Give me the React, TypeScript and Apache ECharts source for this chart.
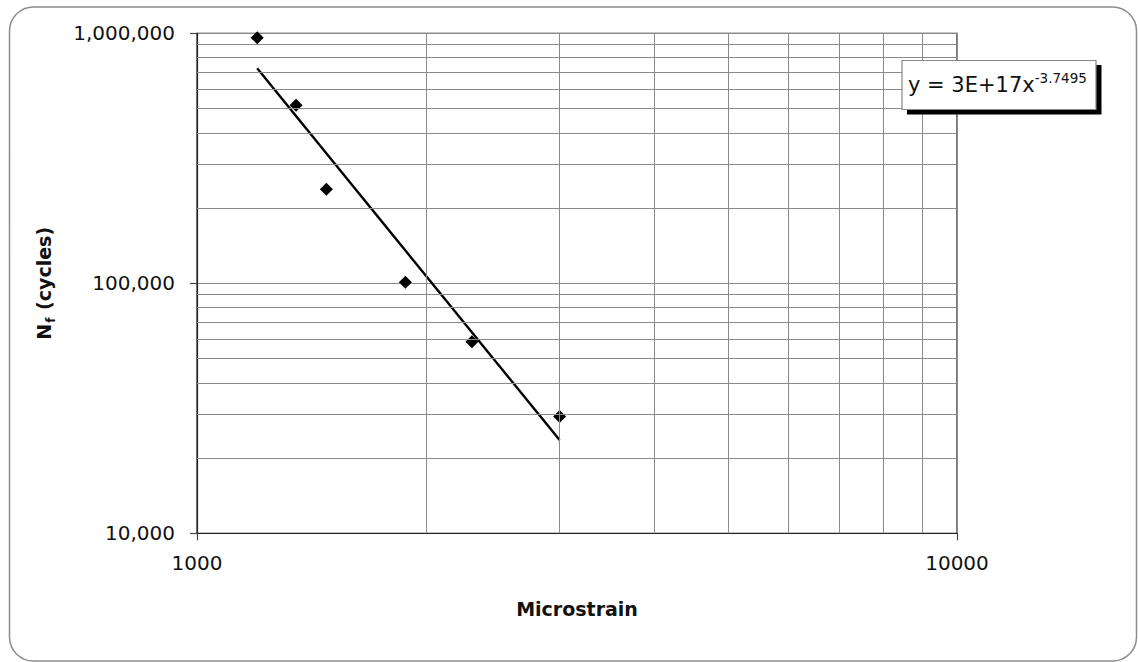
import React, { useEffect, useRef } from "react";
import * as echarts from "echarts";

// Measured data (microstrain vs cycles to failure)
const strainValues = [1200, 1350, 1480, 1880, 2300, 3000];
const cyclesValues = [960000, 515000, 238000, 101000, 58400, 29300];

// Power trendline end points as drawn
const trendX = [1200, 3000];
const trendY = [724000, 23600];

// Minor grid lines
const xMinorGrid = [2000, 3000, 4000, 5000, 6000, 7000, 8000, 9000];
const yMinorGrid = [
  20000, 30000, 40000, 50000, 60000, 70000, 80000, 90000,
  200000, 300000, 400000, 500000, 600000, 700000, 800000, 900000,
];

const xAxisTitle = "Microstrain";
const equationMain = "y = 3E+17x";
const equationExp = "-3.7495";

const FONT = "DejaVu Sans, Verdana, sans-serif";

export default function App() {
  const ref = useRef<HTMLDivElement>(null);

  useEffect(() => {
    document.body.style.margin = "0";
    if (!ref.current) return;
    const chart = echarts.init(ref.current, undefined, { renderer: "svg" });

    const gridLineStyle = { color: "#8a8a8a", width: 1, type: "solid" as const };

    const markData: any[] = [
      ...xMinorGrid.map((v) => ({ xAxis: v })),
      ...yMinorGrid.map((v) => ({ yAxis: v })),
    ];

    chart.setOption({
      animation: false,
      backgroundColor: "#ffffff",
      textStyle: { fontFamily: FONT },
      grid: {
        left: 197,
        top: 33.3,
        width: 760,
        height: 500,
        show: true,
        borderColor: "#222",
        borderWidth: 1.2,
        backgroundColor: "transparent",
      },
      xAxis: {
        type: "log",
        logBase: 10,
        min: 1000,
        max: 10000,
        name: xAxisTitle,
        nameLocation: "middle",
        nameGap: 66,
        nameTextStyle: { fontSize: 19, fontWeight: "bold", color: "#111", fontFamily: FONT },
        axisLine: { show: true, lineStyle: { color: "#222", width: 1.2 } },
        axisTick: { show: true, length: 7, lineStyle: { color: "#444", width: 1.2 } },
        axisLabel: { fontSize: 20, color: "#111", margin: 20, fontFamily: FONT, formatter: (v: number) => String(Math.round(v)) },
        splitLine: { show: true, lineStyle: gridLineStyle },
        minorTick: { show: false },
      },
      yAxis: {
        type: "log",
        logBase: 10,
        min: 10000,
        max: 1000000,
        name: "{n|N}{s|f}{n| (cycles)}",
        nameLocation: "middle",
        nameGap: 140,
        nameRotate: 90,
        nameTextStyle: {
          fontFamily: FONT,
          rich: {
            n: { fontSize: 19, fontWeight: "bold", color: "#111", fontFamily: FONT, lineHeight: 26 },
            s: { fontSize: 12, fontWeight: "bold", color: "#111", fontFamily: FONT, lineHeight: 26, verticalAlign: "bottom", padding: [6, 1, 0, 1] },
          },
        },
        axisLine: { show: true, lineStyle: { color: "#222", width: 1.2 } },
        axisTick: { show: true, length: 7, lineStyle: { color: "#444", width: 1.2 } },
        axisLabel: {
          fontSize: 20,
          color: "#111",
          margin: 22,
          fontFamily: FONT,
          formatter: (v: number) => Math.round(v).toLocaleString("en-US"),
        },
        splitLine: { show: true, lineStyle: gridLineStyle },
      },
      series: [
        {
          type: "line",
          z: 1,
          data: [[1000, 10000]],
          showSymbol: false,
          symbol: "none",
          lineStyle: { width: 0, opacity: 0 },
          silent: true,
          markLine: {
            silent: true,
            symbol: ["none", "none"],
            label: { show: false },
            lineStyle: gridLineStyle,
            emphasis: { disabled: true },
            data: markData,
          },
        },
        {
          type: "line",
          z: 3,
          data: trendX.map((x, i) => [x, trendY[i]]),
          showSymbol: false,
          symbol: "none",
          lineStyle: { color: "#000", width: 2.4 },
          silent: true,
        },
        {
          type: "scatter",
          z: 4,
          data: strainValues.map((x, i) => [x, cyclesValues[i]]),
          symbol: "diamond",
          symbolSize: 13,
          itemStyle: { color: "#000", opacity: 1 },
        },
      ],
      graphic: [
        {
          type: "rect",
          z: 0,
          silent: true,
          shape: { x: 9.5, y: 7, width: 1127, height: 654, r: 24 },
          style: { fill: "none", stroke: "#8c8c8c", lineWidth: 1.5 },
        },
        {
          type: "rect",
          z: 10,
          silent: true,
          shape: { x: 907, y: 65, width: 194.5, height: 49.5 },
          style: { fill: "#000" },
        },
        {
          type: "rect",
          z: 11,
          silent: true,
          shape: { x: 902, y: 60.5, width: 194, height: 49 },
          style: { fill: "#fff", stroke: "#888", lineWidth: 1.2 },
        },
        {
          type: "text",
          z: 12,
          silent: true,
          x: 908,
          y: 85,
          style: {
            text: `{m|${equationMain}}{s|${equationExp}}`,
            verticalAlign: "middle",
            align: "left",
            rich: {
              m: { fontSize: 21, fill: "#111", fontFamily: FONT, lineHeight: 28 },
              s: { fontSize: 13.5, fill: "#111", fontFamily: FONT, lineHeight: 28, verticalAlign: "top", padding: [0, 0, 10, 0] },
            },
          },
        },
      ],
    });

    return () => chart.dispose();
  }, []);

  return <div ref={ref} style={{ width: 1138, height: 662 }} />;
}
